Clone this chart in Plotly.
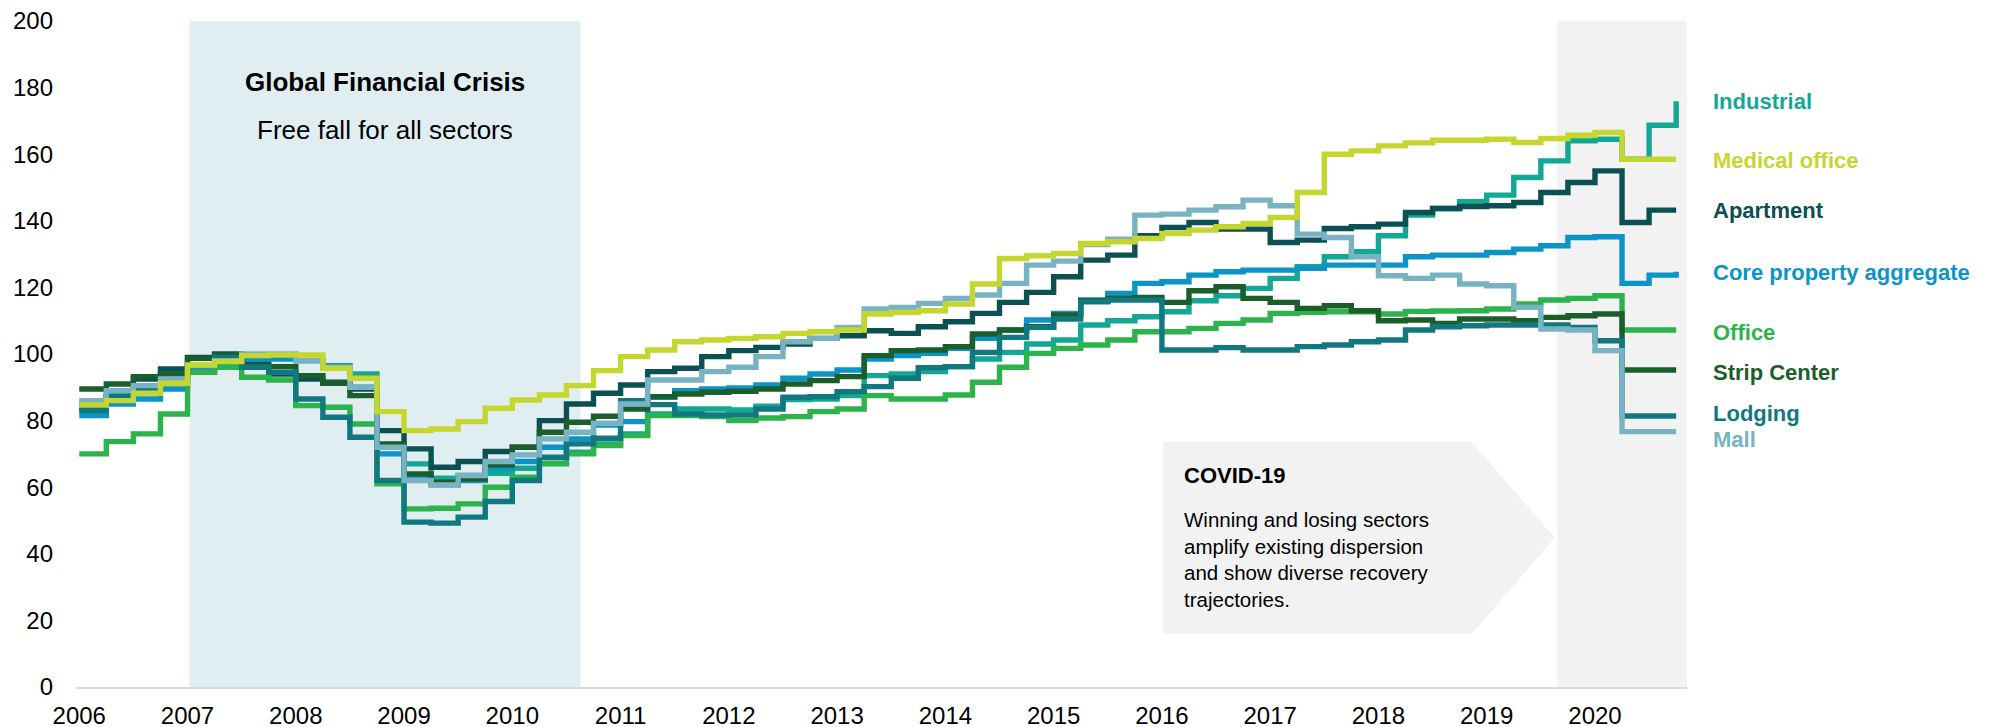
import plotly.graph_objects as go

# ---------------- data (quarterly index levels, 2006 Q1 .. 2020 Q4) ----------------
years = list(range(2006, 2021))
quarter_x = [y + q / 4 for y in years for q in range(4)]
year_ticks = years
year_labels = [str(y) for y in years]
y_ticks = list(range(0, 201, 20))

industrial = [
    85, 88.2, 90, 92,
    96.5, 97.5, 99.5, 99,
    98, 96.2, 94, 72,
    67, 62.7, 63.5, 64.2,
    65.7, 67, 70.5, 73,
    76, 82, 83.5, 83.5,
    83.2, 84.3, 86.3, 86.5,
    87.5, 93.5, 94, 94.7,
    96.2, 98.5, 100.5, 103,
    104.2, 108.7, 110, 111.2,
    112.7, 116, 117.5, 119.7,
    122.7, 126.2, 129.2, 130.7,
    135.5, 141.7, 143.7, 145.7,
    147.7, 153, 158, 164,
    164.5, 158.5, 168.7, 175.9,
]
medical_office = [
    84.7, 86, 88.2, 91.2,
    96.7, 97.7, 99.5, 99.7,
    99.7, 95.7, 92.7, 82.7,
    77, 77.5, 79.7, 83.7,
    86.2, 87.7, 90.5, 95,
    99.2, 101.2, 103.7, 104.2,
    104.7, 105.2, 106.2, 106.7,
    107.2, 112, 112.5, 113,
    115, 121, 128.7, 129.5,
    130.2, 133.2, 133.7, 134.7,
    136.2, 137.2, 138.2, 139.2,
    141, 148.5, 160, 161,
    162.5, 163.4, 164.2, 164.2,
    164.5, 163.5, 164.7, 165.7,
    166.5, 158.5, 158.5, 158.5,
]
apartment = [
    83.5, 87, 92.5, 95.5,
    99, 100, 97, 94,
    92.5, 91.5, 89.5, 77,
    71.5, 66, 67.7, 70.7,
    72, 80, 85, 88.2,
    90.7, 94.7, 95.7, 99.2,
    101, 102, 103, 104.7,
    105.5, 107, 106.2, 108.2,
    109.7, 112.2, 115.5, 118.5,
    123.2, 128.2, 129.7, 135.5,
    138, 139.5, 137.5, 137.5,
    133.5, 134.2, 137.7, 138.2,
    139, 142.5, 143.7, 144.3,
    144.5, 145.5, 148.5, 151.5,
    155, 139.5, 143.2, 143.2,
]
core_aggregate = [
    81.5, 85, 86.5, 89.5,
    95, 96.5, 98.5, 98.5,
    98, 96.5, 90, 70,
    63, 60.7, 62, 65.7,
    67.7, 72, 74.5, 78.7,
    79.7, 87, 89, 89.5,
    89.8, 90.7, 92.7, 94,
    95.2, 98.5, 99.5, 100.2,
    101.7, 104.7, 107.2, 110.2,
    112.2, 116.2, 118.2, 121.2,
    121.7, 123.7, 124.7, 125.2,
    125.2, 125.7, 126.7, 126.7,
    126.7, 129.2, 129.7, 129.7,
    130.5, 131.5, 132.5, 135,
    135.2, 121.2, 123.7, 124.7,
]
office = [
    70, 73.7, 76, 82,
    94.5, 96, 93, 92.2,
    84.5, 84, 79, 61,
    53.5, 53.7, 55, 60,
    63, 67.2, 70, 72.5,
    75.5, 81.5, 81.5, 81.2,
    80, 80.8, 81.2, 82.7,
    83.5, 87.5, 86.5, 86.5,
    87.7, 91.5, 96, 100.2,
    101.7, 102.7, 104.2, 106.7,
    106.7, 107.7, 109.2, 110.2,
    112.2, 112.5, 112.7, 112.7,
    112, 112.8, 112.9, 113,
    113.5, 115, 116.2, 116.7,
    117.5, 107.2, 107.2, 107.2,
]
strip_center = [
    89.5, 91, 93.2, 94,
    98.7, 99.7, 96.5, 96.2,
    93.5, 91.2, 87.5, 73,
    64, 61.5, 62.5, 66.7,
    72, 76.5, 79.5, 81.3,
    83.5, 87.2, 88, 88.5,
    88.8, 89.5, 91, 92,
    93.2, 99.5, 101, 101.2,
    102.2, 106, 107.2, 108.2,
    111.7, 116, 116.7, 117,
    115.5, 119, 120.2, 116.7,
    115.5, 113.7, 114.5, 113,
    110, 110.2, 109.2, 110.5,
    110.5, 110, 111, 111.5,
    112, 95.2, 95.2, 95.2,
]
lodging = [
    83, 87, 89.5, 92,
    96.5, 99, 96, 94.5,
    86.5, 81, 75, 62,
    49.5, 49.2, 51, 55.7,
    62, 69, 73, 74.7,
    86, 84.8, 82, 81.7,
    81.7, 83.5, 87, 87.2,
    88.7, 90.2, 92.7, 95.9,
    96.2, 100.5, 105, 108,
    110.5, 115.7, 116.2, 116.2,
    101.2, 101.2, 101.9, 101.2,
    101.2, 102.2, 102.7, 103.7,
    104.2, 107.2, 108.2, 108.5,
    108.7, 108.7, 108.7, 108,
    104, 81.4, 81.4, 81.4,
]
mall = [
    86, 89, 90.5, 92.5,
    96.5, 98, 100, 100,
    98, 96, 90, 72,
    62, 60.7, 63.5, 67.7,
    69.7, 74.5, 76.5, 79.2,
    85, 92.2, 92.2, 94.7,
    96, 99.2, 103.7, 104.7,
    108, 113.5, 114, 115.2,
    116.7, 117.7, 121.2, 126.7,
    127.9, 132.9, 134.5, 141.7,
    142, 143.2, 144.2, 146.2,
    144.5, 136, 135, 129.2,
    123.5, 122.7, 123.7, 121,
    120.5, 114, 107.5, 107.2,
    101, 76.7, 76.7, 76.7,
]

series_names = ["Industrial", "Medical office", "Apartment", "Core property aggregate",
                "Office", "Strip Center", "Lodging", "Mall"]
series_values = [industrial, medical_office, apartment, core_aggregate,
                 office, strip_center, lodging, mall]
series_colors = ["#12A893", "#C5D62F", "#0B5052", "#0B94C7",
                 "#2DB34B", "#1B5E2B", "#12787F", "#79B3C3"]
label_y = [175.7, 158.1, 143.1, 124.4, 106.6, 94.4, 82.1, 74.4]

# draw order (bottom -> top)
draw_order = [0, 2, 3, 4, 5, 6, 7, 1]

FONT = "Liberation Sans, Arial, sans-serif"

fig = go.Figure()
for i in draw_order:
    fig.add_trace(go.Scatter(
        x=quarter_x, y=series_values[i], mode="lines", name=series_names[i],
        line=dict(color=series_colors[i], width=5.4, shape="hv"),
        hoverinfo="skip",
    ))

shapes = [
    dict(type="rect", xref="x", yref="y", x0=2007.02, x1=2010.63, y0=0, y1=200.6,
         fillcolor="#E0EEF2", line=dict(width=0), layer="below"),
    dict(type="rect", xref="x", yref="y", x0=2019.65, x1=2020.85, y0=-1.2, y1=200.6,
         fillcolor="#F2F2F2", line=dict(width=0), layer="below"),
    dict(type="path", xref="x", yref="y",
         path="M 2016.01 73.6 L 2018.86 73.6 L 2019.63 44.8 L 2018.86 15.9 L 2016.01 15.9 Z",
         fillcolor="#F2F2F2", line=dict(width=0), layer="below"),
]

# The page body adds an 8px offset; figure pixels = page pixels - 8.
# plot area spans figure pixels 68..1679; labels start at figure pixel ~1703
label_paper_x = (1703 - 68) / (1679 - 68)

annotations = []
for name, color, ly in zip(series_names, series_colors, label_y):
    annotations.append(dict(
        x=label_paper_x, y=ly, xref="paper", yref="y", text="<b>%s</b>" % name,
        showarrow=False, xanchor="left", yanchor="middle",
        font=dict(family=FONT, size=22, color=color),
    ))

annotations += [
    dict(x=2008.825, y=181.6, xref="x", yref="y", text="<b>Global Financial Crisis</b>",
         showarrow=False, xanchor="center", yanchor="middle",
         font=dict(family=FONT, size=26, color="#000000")),
    dict(x=2008.825, y=167.2, xref="x", yref="y", text="Free fall for all sectors",
         showarrow=False, xanchor="center", yanchor="middle",
         font=dict(family=FONT, size=26, color="#000000")),
    dict(x=2016.19, y=63.4, xref="x", yref="y", text="<b>COVID-19</b>",
         showarrow=False, xanchor="left", yanchor="middle",
         font=dict(family=FONT, size=22, color="#000000")),
    dict(x=2016.19, y=38.3, xref="x", yref="y",
         text="Winning and losing sectors<br>amplify existing dispersion<br>"
              "and show diverse recovery<br>trajectories.",
         showarrow=False, xanchor="left", yanchor="middle", align="left",
         font=dict(family=FONT, size=20.5, color="#000000")),
]

fig.update_layout(
    width=1982, height=719,
    margin=dict(l=68, r=303, t=13, b=40, autoexpand=False),
    paper_bgcolor="white", plot_bgcolor="white",
    showlegend=False,
    shapes=shapes, annotations=annotations,
    font=dict(family=FONT, size=24, color="#000000"),
    xaxis=dict(range=[2005.97, 2020.85], tickmode="array", tickvals=year_ticks,
               ticktext=year_labels, showgrid=False, zeroline=False,
               showline=True, linecolor="#D9D9D9", linewidth=2, ticks="",
               tickfont=dict(family=FONT, size=24, color="#000000"),
               ticklabelstandoff=6, automargin=False, ticklabeloverflow="allow"),
    yaxis=dict(range=[0, 200], tickmode="array", tickvals=y_ticks,
               showgrid=False, zeroline=False, showline=False, ticks="",
               tickfont=dict(family=FONT, size=24, color="#000000"),
               ticklabelstandoff=22, automargin=False, ticklabeloverflow="allow"),
)

fig.write_html("out.html")
